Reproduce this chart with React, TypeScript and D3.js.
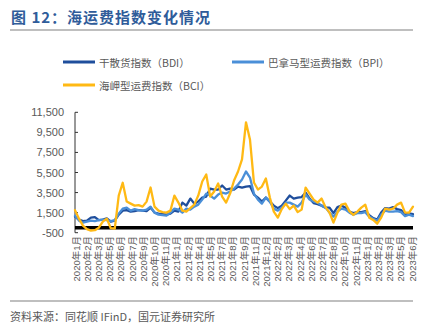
import React from "react";
import * as d3 from "d3";

const monthLabels = [
  "2020年1月","2020年2月","2020年3月","2020年5月","2020年6月","2020年7月","2020年9月","2020年10月","2020年11月",
  "2021年1月","2021年2月","2021年4月","2021年5月","2021年7月","2021年8月","2021年9月","2021年11月","2021年12月",
  "2022年2月","2022年3月","2022年4月","2022年6月","2022年7月","2022年8月","2022年10月","2022年11月",
  "2023年1月","2023年2月","2023年3月","2023年5月","2023年6月"
];

const yTicks = [-500, 1500, 3500, 5500, 7500, 9500, 11500];

const bdi = [
  1100, 800, 650, 700, 1000, 1050, 750, 800, 930, 600,
  700, 1300, 1700, 1750, 1600, 1650, 1750, 1700, 1650, 2000,
  1500, 1400, 1350, 1300, 1400, 1700, 1600, 2500, 2200, 2900,
  2400, 2600, 3000, 3100, 3900, 3800, 3800, 4200, 3800, 3900,
  3800, 4100, 4000, 4100, 4150, 3300, 3000, 2600, 3000, 2600,
  2200, 1950, 2200, 2700, 3200, 2900, 3000, 3050, 3500, 2900,
  2450, 2350, 2200, 2000, 2000, 1450, 2050, 2200, 2000, 1600,
  1450, 1550, 1550, 1650, 1250, 950, 800, 1500, 1950, 1900,
  2050, 1850, 1750, 1300, 1430, 1350
];

const bpi = [
  1200, 700, 500, 600, 700, 650, 750, 800, 750, 650,
  750, 1400, 1900, 2000, 1700, 1850, 1750, 1700, 1800, 2100,
  1500, 1300, 1250, 1200, 1500, 1900, 1800, 1500, 1900, 1800,
  2100, 2300, 2800, 3400, 3200, 2900, 3300, 3500, 3400, 3600,
  3900, 4300, 4800, 5600, 5000, 3400, 2800, 2400, 3000, 2600,
  1900, 1700, 2000, 2500, 2500, 2300, 2100, 2500, 3300, 2800,
  2600, 2500, 2200, 2000, 1500, 1100, 1600, 1900, 1800, 1500,
  1300, 1450, 1450, 1550, 1100, 900, 700, 1300, 1700, 1600,
  1600, 1650, 1550, 1150, 1300, 1150
];

const bci = [
  1750, 900, 200, -150, -300, -250, 0, 600, 900, -50,
  -100, 3200, 4480, 2600, 2400, 2200, 2250, 2100, 2600, 4000,
  2100, 1700, 1550, 1500, 1700, 3200, 2500, 1700, 1600, 1950,
  2300, 3200, 4600, 5300, 3100, 3600, 4400, 3100, 2500, 3400,
  4700, 5600, 6800, 10500, 8800, 4500, 3800, 4100, 4900, 3000,
  1600, 1000, 1850, 2400, 1850, 2200, 1550, 1800, 4000, 3400,
  2800, 2500, 2900, 2050, 1500, 500, 1500, 2300, 2400, 1650,
  1270, 1600, 2000, 2300, 1000, 770, 400, 1000, 1900, 1800,
  1900, 2300, 2500, 1500, 1500, 2100
];

const seriesNames = ["干散货指数（BDI）", "巴拿马型运费指数（BPI）", "海岬型运费指数（BCI）"];
const seriesColors = ["#1F4E9C", "#4A8FD8", "#FFB914"];

const FONT = "'Liberation Sans', Arial, 'Noto Sans CJK SC', sans-serif";

export default function App() {
  const W = 436, H = 334;
  const left = 75, right = 413, top = 112.3, bottom = 232.7;
  const n = bdi.length;
  const x = d3.scaleLinear().domain([0, n - 1]).range([left, right]);
  const y = d3.scaleLinear().domain([-500, 11500]).range([bottom, top]);
  const xl = d3.scalePoint<string>().domain(monthLabels).range([76, 412]);
  const fmt = d3.formatLocale({ decimal: ".", thousands: ",", grouping: [3], currency: ["", ""], minus: "-" }).format(",");
  const line = d3.line<number>().x((_, i) => x(i)).y((v) => y(v));
  const data = [bdi, bpi, bci];

  const legend = [
    { lx: 63, ly: 62 },
    { lx: 232, ly: 62 },
    { lx: 63, ly: 85 },
  ];

  return (
    <svg width={W} height={H} style={{ position: "absolute", left: 0, top: 0, background: "#fff" }} fontFamily={FONT}>
      <rect x={0} y={0} width={W} height={H} fill="#fff" />
      <text x={11} y={23} fontSize={15} fontWeight="bold" fill="#2F5C9A" letterSpacing={1}
        fontFamily="'Noto Sans CJK SC', sans-serif">图 12：海运费指数变化情况</text>
      <line x1={10} x2={413} y1={30} y2={30} stroke="#808080" strokeWidth={1.2} />

      {legend.map((l, i) => (
        <g key={i}>
          <line x1={l.lx} x2={l.lx + 32} y1={l.ly} y2={l.ly} stroke={seriesColors[i]} strokeWidth={3} />
          <text x={l.lx + 36} y={l.ly} dominantBaseline="central" fontSize={10.5} fill="#595959"
            fontFamily="'Noto Sans CJK SC', sans-serif">{seriesNames[i]}</text>
        </g>
      ))}

      {/* y axis */}
      <line x1={left} x2={left} y1={y(11500)} y2={y(-500)} stroke="#333" strokeWidth={1} />
      {yTicks.map((t) => (
        <g key={t}>
          <line x1={left} x2={left + 3} y1={y(t)} y2={y(t)} stroke="#333" strokeWidth={1} />
          <text x={64} y={y(t)} textAnchor="end" dominantBaseline="central" fontSize={11} fill="#595959">{fmt(t)}</text>
        </g>
      ))}

      {/* zero axis */}
      <line x1={left} x2={right} y1={y(0)} y2={y(0)} stroke="#000" strokeWidth={3.5} />

      {data.map((d, i) => (
        <path key={i} d={line(d) || ""} fill="none" stroke={seriesColors[i]} strokeWidth={2.3}
          strokeLinejoin="round" strokeLinecap="round" />
      ))}

      {/* x labels */}
      {monthLabels.map((m) => (
        <text key={m} transform={`translate(${xl(m)},236) rotate(-90)`} textAnchor="end" dominantBaseline="central"
          fontSize={9.5} fill="#595959" fontFamily="'Liberation Sans', 'Noto Sans CJK SC', sans-serif">{m}</text>
      ))}

      <line x1={10} x2={413} y1={301} y2={301} stroke="#808080" strokeWidth={1.2} />
      <text x={10} y={316} fontSize={11} fill="#595959" dominantBaseline="central"
        fontFamily="'Noto Sans CJK SC', sans-serif">资料来源：同花顺 IFinD，国元证券研究所</text>
    </svg>
  );
}
